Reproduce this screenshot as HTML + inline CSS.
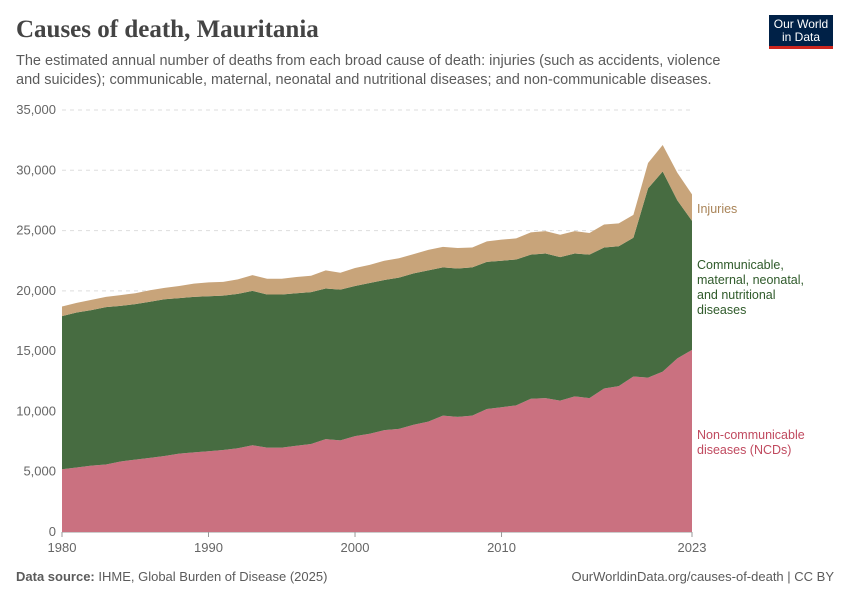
<!DOCTYPE html>
<html><head><meta charset="utf-8"><style>
body{margin:0;background:#fff;font-family:"Liberation Sans",sans-serif;}
#wrap{position:relative;width:850px;height:600px;overflow:hidden;}
.t{position:absolute;}
</style></head><body>
<div id="wrap">
<div class="t" style="left:16px;top:16px;font-family:'Liberation Serif',serif;font-size:25px;color:#444;font-weight:bold;">Causes of death, Mauritania</div>
<div class="t" style="left:16px;top:52px;width:720px;font-size:14.5px;line-height:19px;color:#5b5b5b;">The estimated annual number of deaths from each broad cause of death: injuries (such as accidents, violence and suicides); communicable, maternal, neonatal and nutritional diseases; and non-communicable diseases.</div>
<div class="t" style="left:769px;top:15px;width:64px;height:34px;background:#002147;border-bottom:3px solid #ce261e;color:#fff;font-size:12px;line-height:13px;text-align:center;padding-top:3px;box-sizing:border-box;">Our World<br>in Data</div>
<svg id="chart" class="t" style="left:0;top:0" width="850" height="600"></svg>
<div class="t" style="left:16px;top:569px;font-size:13px;color:#5b5b5b;"><b>Data source:</b> IHME, Global Burden of Disease (2025)</div>
<div class="t" style="right:16px;top:569px;font-size:13px;color:#5b5b5b;">OurWorldinData.org/causes-of-death | CC BY</div>
</div>
<script>
const years=[];for(let y=1980;y<=2023;y++)years.push(y);
const ncd=[5200,5350,5500,5600,5850,6000,6150,6300,6500,6600,6700,6800,6950,7200,7000,7000,7150,7300,7700,7600,7950,8150,8450,8550,8900,9150,9650,9550,9650,10200,10350,10500,11050,11100,10900,11250,11100,11900,12100,12900,12800,13300,14400,15100];
const cmnn=[12700,12850,12900,13050,12900,12900,12950,13000,12900,12900,12850,12800,12800,12800,12700,12700,12650,12600,12500,12500,12450,12500,12450,12550,12550,12550,12300,12300,12300,12200,12150,12100,11950,12000,11900,11850,11900,11700,11600,11500,15700,16600,13100,10700];
const injuries=[800,800,850,850,900,900,950,950,1000,1100,1150,1150,1200,1300,1300,1300,1350,1350,1500,1400,1500,1500,1600,1600,1600,1700,1700,1700,1650,1700,1750,1750,1850,1850,1850,1850,1800,1900,1900,1900,2100,2200,2300,2200];
const yTicks=[0,5000,10000,15000,20000,25000,30000,35000];
const xTicks=[1980,1990,2000,2010,2023];
const NS="http://www.w3.org/2000/svg";
const svg=document.getElementById('chart');
const X0=62,X1=692,Y0=532,Y1=110;
const x=v=>X0+(v-1980)/(2023-1980)*(X1-X0);
const y=v=>Y0-v/35000*(Y0-Y1);
function el(t,a){const e=document.createElementNS(NS,t);for(const k in a)e.setAttribute(k,a[k]);svg.appendChild(e);return e;}
yTicks.forEach(t=>{
 const g=el('line',{x1:X0,x2:X1,y1:y(t),y2:y(t),stroke:t===0?'#999':'#ddd','stroke-dasharray':t===0?'':'4,4'});
 
 
 const tx=el('text',{x:56,y:y(t)+4,'text-anchor':'end','font-size':13,fill:'#666','font-family':'Liberation Sans'});
 tx.textContent=t.toLocaleString('en-US');
 
 
});
const series=[{d:ncd,c:'#ca7180',n:'area-ncd'},{d:cmnn,c:'#476c41',n:'area-communicable'},{d:injuries,c:'#c8a47a',n:'area-injuries'}];
let base=years.map(()=>0);
series.forEach(s=>{
 const top=base.map((b,i)=>b+s.d[i]);
 let p=years.map((yr,i)=>(i?'L':'M')+x(yr)+','+y(top[i])).join('');
 for(let i=years.length-1;i>=0;i--)p+='L'+x(years[i])+','+y(base[i]);
 const a=el('path',{d:p+'Z',fill:s.c});
 
 
 base=top;
});
xTicks.forEach(t=>{
 const l=el('line',{x1:x(t),x2:x(t),y1:Y0,y2:Y0+5,stroke:'#999'});
 
 
 const tx=el('text',{x:x(t),y:552,'text-anchor':'middle','font-size':13,fill:'#666','font-family':'Liberation Sans'});
 tx.textContent=t;
 
 
});
const labels=[{t:['Injuries'],y:213,c:'#a98458',n:'legend-injuries'},{t:['Communicable,','maternal, neonatal,','and nutritional','diseases'],y:269,c:'#2f5a2a',n:'legend-communicable'},{t:['Non-communicable','diseases (NCDs)'],y:439,c:'#c04a5f',n:'legend-ncd'}];
labels.forEach(L=>{
 L.t.forEach((line,i)=>{
  const tx=el('text',{x:697,y:L.y+i*15,'font-size':12.5,fill:L.c,'font-family':'Liberation Sans'});
  tx.textContent=line;
  
  
 });
});
</script>
</body></html>
